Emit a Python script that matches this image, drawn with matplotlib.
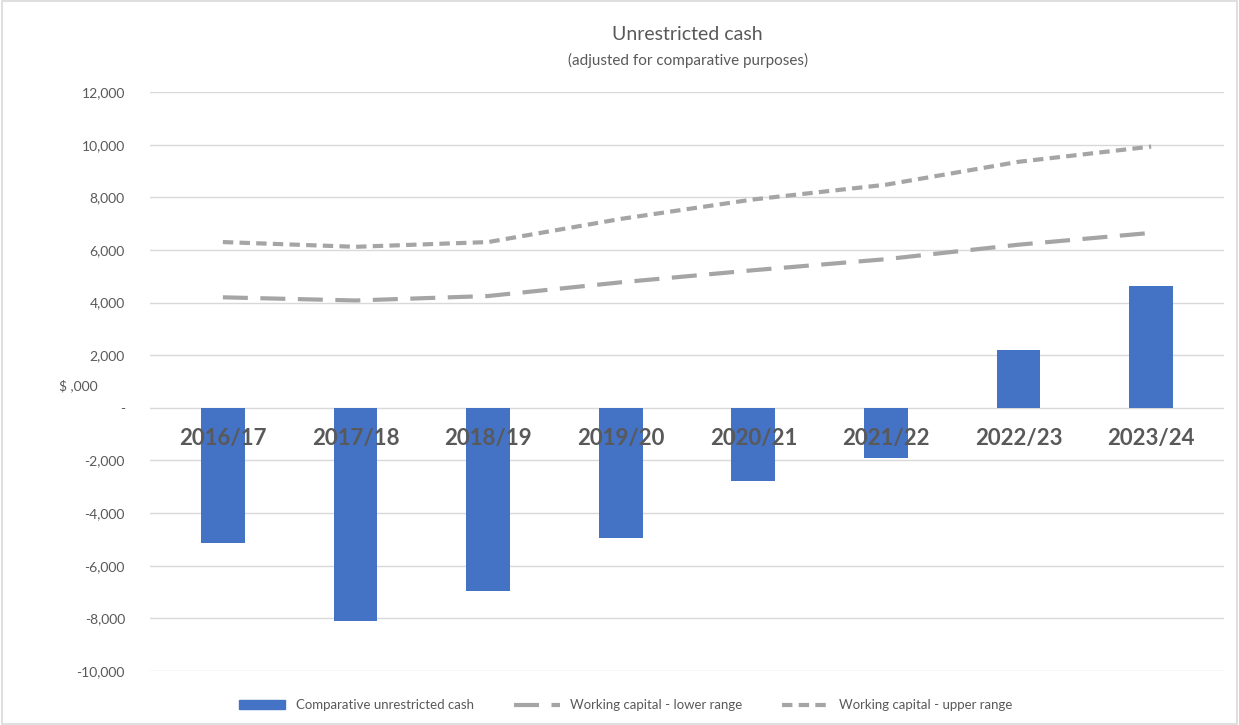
import matplotlib.pyplot as plt
from matplotlib.ticker import FuncFormatter
import matplotlib.patches as mpatches

plt.rcParams['font.family'] = ['Lato', 'DejaVu Sans']

years = ["2016/17", "2017/18", "2018/19", "2019/20", "2020/21", "2021/22", "2022/23", "2023/24"]
cash = [-5150, -8090, -6950, -4960, -2790, -1910, 2210, 4620]
lower_range = [4200, 4080, 4250, 4770, 5230, 5650, 6200, 6650]
upper_range = [6300, 6120, 6300, 7180, 7920, 8480, 9350, 9930]

fig = plt.figure(figsize=(12.39, 7.25), dpi=100)
ax = fig.add_axes([0.121, 0.0745, 0.867, 0.7985])

x = range(len(years))
ax.bar(x, cash, width=0.33, color='#4472C4', zorder=2)
ax.plot(x, lower_range, color='#A5A5A5', lw=3, dashes=(6, 3), zorder=3)
ax.plot(x, upper_range, color='#A5A5A5', lw=3, dashes=(2.5, 1.5), zorder=3)

ax.set_xlim(-0.55, len(years) - 0.45)
ax.set_ylim(-10000, 12000)
ax.set_yticks(range(-10000, 12001, 2000))
ax.yaxis.set_major_formatter(FuncFormatter(lambda v, p: '-' if v == 0 else f'{v:,.0f}'))
ax.tick_params(axis='y', length=0, pad=18, labelsize=10, labelcolor='#595959')
ax.set_xticks([])
ax.grid(axis='y', color='#D9D9D9', lw=1, zorder=0)
for s in ax.spines.values():
    s.set_visible(False)

# category labels sit just under the zero line
for i, y in enumerate(years):
    ax.text(i, -1150, y, ha='center', va='center', fontsize=16, fontweight='bold',
            color='#595959', zorder=4)

fig.text(0.048, 0.468, '$ ,000', fontsize=10, color='#595959', va='center')
fig.text(0.555, 0.953, 'Unrestricted cash', ha='center', va='center', fontsize=14, color='#595959')
fig.text(0.555, 0.917, '(adjusted for comparative purposes)', ha='center', va='center', fontsize=11,
         color='#595959')

handles = [
    mpatches.Patch(color='#4472C4', label='Comparative unrestricted cash'),
    plt.Line2D([], [], color='#A5A5A5', lw=3, dashes=(6, 3), label='Working capital - lower range'),
    plt.Line2D([], [], color='#A5A5A5', lw=3, dashes=(2.5, 1.5), label='Working capital - upper range'),
]
fig.legend(handles=handles, loc='center', bbox_to_anchor=(0.505, 0.027), ncol=3, frameon=False,
           fontsize=9.5, labelcolor='#595959', handlelength=3.5, columnspacing=3)

fig.patches.append(mpatches.Rectangle((0.002, 0.002), 0.996, 0.996, transform=fig.transFigure,
                                      fill=False, edgecolor='#D9D9D9', lw=1.2))

fig.savefig('out.png', dpi=100)
